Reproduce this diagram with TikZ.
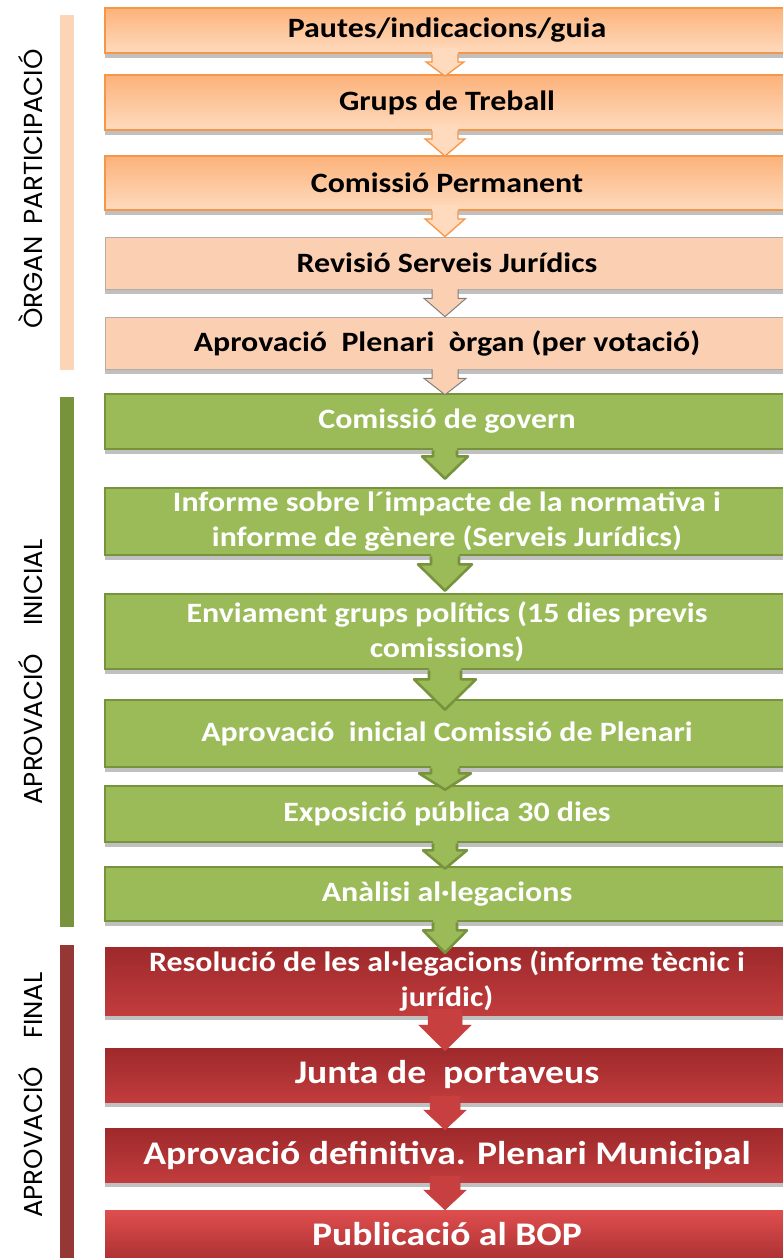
\documentclass[tikz,border=0pt]{standalone}
\usepackage{fontspec}
\setmainfont{Carlito}
\newfontfamily\boxfont[FakeStretch=1.14]{Carlito}
\newfontfamily\labfont{Poppins}
\usetikzlibrary{calc,shadows}
\definecolor{orborder}{HTML}{F79646}
\definecolor{ortop}{HTML}{FCB27A}
\definecolor{orbot}{HTML}{FEDBBF}
\definecolor{peach}{HTML}{FBD0B2}
\definecolor{peachline}{HTML}{B7AAA0}
\definecolor{peacharrline}{HTML}{7F7F7F}
\definecolor{grfill}{HTML}{9BBB59}
\definecolor{grline}{HTML}{77933C}
\definecolor{rdtop}{HTML}{9E292B}
\definecolor{rdbot}{HTML}{C23C3D}
\definecolor{rdlasttop}{HTML}{DF4E4E}
\definecolor{rdlastbot}{HTML}{AE3234}
\definecolor{rdarrow}{HTML}{C83F40}
\definecolor{orbar}{HTML}{FBD5B5}
\definecolor{rdbar}{HTML}{953735}
\newcommand\blockarr[7]{%
  \path[#1,draw=none] let \p1=(#2.south), \p2=(#3.north) in
    (\x1-2pt-#6,\y1+6pt) -- (\x1-2pt-#6,\y1-#4) -- (\x1-2pt-#7,\y1-#4) --
    (\x1-2pt,\y2-#5) -- (\x1-2pt+#7,\y1-#4) -- (\x1-2pt+#6,\y1-#4) --
    (\x1-2pt+#6,\y1+6pt) -- cycle;
  \path[#1,fill=none] let \p1=(#2.south), \p2=(#3.north) in
    (\x1-2pt-#6,\y1) -- (\x1-2pt-#6,\y1-#4) -- (\x1-2pt-#7,\y1-#4) --
    (\x1-2pt,\y2-#5) -- (\x1-2pt+#7,\y1-#4) -- (\x1-2pt+#6,\y1-#4) --
    (\x1-2pt+#6,\y1);
}
\tikzset{
  boxbase/.style={minimum width=684pt, inner sep=0pt, align=center,
    font=\boxfont\bfseries\fontsize{28}{35}\selectfont,
    drop shadow={shadow xshift=0pt, shadow yshift=-5pt, opacity=0.35, fill=black!70}},
  obox/.style={boxbase, top color=ortop, bottom color=orbot, draw=orborder, line width=1.8pt, text=black},
  pbox/.style={boxbase, fill=peach, draw=peachline, line width=0.8pt, text=black},
  gbox/.style={boxbase, fill=grfill, draw=grline, line width=2.6pt, text=white},
  rbox/.style={boxbase, top color=rdtop, bottom color=rdbot, text=white},
  rbigbox/.style={rbox, font=\boxfont\bfseries\fontsize{33}{40}\selectfont},
  rlastbox/.style={rbigbox, top color=rdlasttop, bottom color=rdlastbot},
  oarr/.style={fill=orbot, draw=orborder, line width=1.3pt, line join=miter},
  parr/.style={fill=peach, draw=peacharrline, line width=1pt},
  garr/.style={fill=grfill, draw=grline, line width=2.6pt, line join=round},
  rarr/.style={fill=rdarrow, draw=rdarrow, line width=0.5pt},
  bar/.style={minimum width=14pt, inner sep=0pt, draw=none},
  lab/.style={rotate=90, font=\labfont\fontsize{26}{30}\selectfont, text=black, inner sep=0pt}
}
\begin{document}
\begin{tikzpicture}[x=1pt,y=-1pt]
\useasboundingbox (0,0) rectangle (783,1258);
\clip (0,0) rectangle (783,1258);
\fill[white] (0,0) rectangle (783,1258);
% side bars
\node[bar, fill=orbar, minimum height=355pt] (bar1) at (67,192.5) {};
\node[bar, fill=grline, minimum height=530pt] (bar2) at (67,662) {};
\node[bar, fill=rdbar, minimum height=325pt] (bar3) at (67,1107.5) {};
% labels
\node[lab] (l1) at (31,189) {ÒRGAN\hspace{12pt}PARTICIPACIÓ};
\node[lab] (l2) at (31,672) {APROVACIÓ\hspace{28pt}INICIAL};
\node[lab] (l3) at (31,1095) {APROVACIÓ\hspace{28pt}FINAL};
% boxes
\node[obox, minimum height=45pt] (b1) at (447,30.5) {Pautes/indicacions/guia};
\node[obox, minimum height=55pt] (b2) at (447,102.5) {Grups de Treball};
\node[obox, minimum height=54pt] (b3) at (447,183) {Comissió Permanent};
\node[pbox, minimum height=52pt] (b4) at (447,263) {Revisió Serveis Jurídics};
\node[pbox, minimum height=52pt] (b5) at (447,343) {Aprovació~ Plenari~ òrgan (per votació)};
\node[gbox, minimum height=55pt] (b6) at (447,421.5) {Comissió de govern};
\node[gbox, minimum height=67pt] (b7) at (447,521.5) {Informe sobre l´impacte de la normativa i\\informe de gènere (Serveis Jurídics)};
\node[gbox, minimum height=75pt] (b8) at (447,631.5) {Enviament grups polítics (15 dies previs\\comissions)};
\node[gbox, minimum height=67pt] (b9) at (447,733.5) {Aprovació~ inicial Comissió de Plenari};
\node[gbox, minimum height=56pt] (b10) at (447,814) {Exposició pública 30 dies};
\node[gbox, minimum height=54pt] (b11) at (447,894) {Anàlisi al·legacions};
\node[rbox, minimum height=68pt] (b12) at (447,981) {Resolució de les al·legacions (informe tècnic i\\jurídic)};
\node[rbigbox, minimum height=54pt] (b13) at (447,1075) {Junta de~ portaveus};
\node[rbigbox, minimum height=54pt] (b14) at (447,1155) {Aprovació definitiva. Plenari Municipal};
\node[rlastbox, minimum height=48pt] (b15) at (447,1234) {Publicació al BOP};
% arrows
\blockarr{oarr}{b1}{b2}{8pt}{2pt}{13pt}{19pt}
\blockarr{oarr}{b2}{b3}{8pt}{1pt}{13pt}{20pt}
\blockarr{oarr}{b3}{b4}{8pt}{0pt}{13pt}{20pt}
\blockarr{parr}{b4}{b5}{9pt}{0pt}{13pt}{21pt}
\blockarr{parr}{b5}{b6}{9pt}{2pt}{13pt}{21pt}
\blockarr{garr}{b6}{b7}{6pt}{-8pt}{12pt}{23pt}
\blockarr{garr}{b7}{b8}{8pt}{-2pt}{14pt}{27pt}
\blockarr{garr}{b8}{b9}{9pt}{11pt}{16pt}{31pt}
\blockarr{garr}{b9}{b10}{5pt}{5pt}{14pt}{26pt}
\blockarr{garr}{b10}{b11}{7pt}{3pt}{12pt}{22pt}
\blockarr{garr}{b11}{b12}{8pt}{6pt}{12pt}{22pt}
\blockarr{rarr}{b12}{b13}{10pt}{3pt}{17pt}{26pt}
\blockarr{rarr}{b13}{b14}{8pt}{2pt}{15pt}{21pt}
\blockarr{rarr}{b14}{b15}{8pt}{0pt}{15pt}{21pt}
\end{tikzpicture}
\end{document}
